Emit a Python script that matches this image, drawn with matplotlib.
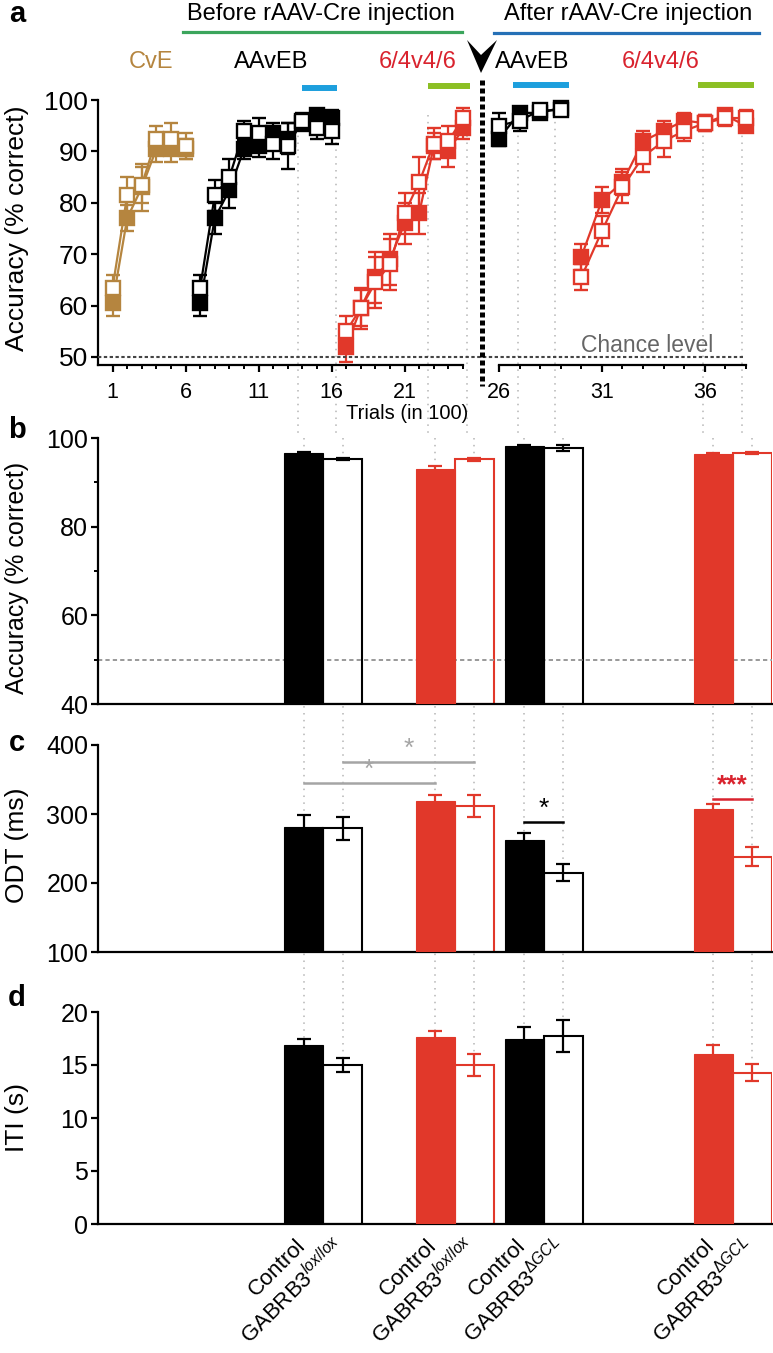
import matplotlib
matplotlib.use("Agg")
import matplotlib.pyplot as plt
from matplotlib.lines import Line2D
from matplotlib.patches import Polygon
from matplotlib.transforms import blended_transform_factory, offset_copy
from matplotlib.ticker import MultipleLocator

plt.rcParams['font.family'] = ['Liberation Sans', 'DejaVu Sans']
plt.rcParams['mathtext.fontset'] = 'custom'
plt.rcParams['mathtext.rm'] = 'Liberation Sans'
plt.rcParams['mathtext.it'] = 'Liberation Sans:italic'
plt.rcParams['axes.linewidth'] = 1.6

RED = '#e1382a'
TXT_RED = '#d9232e'
BROWN = '#b5853f'
BLACK = '#000000'
CYAN = '#1d9fdd'
LIME = '#8cbf24'
GREEN = '#3ba55c'
BLUE = '#2570b6'
GUIDE = '#b5b5b5'
SIG_GRAY = '#a5a5a5'

# ---- panel a: learning curves (accuracy, % correct), filled = control, open = GABRB3 ----
cve_trials = [1, 2, 3, 4, 5, 6]
cve_ctrl = [60.5, 77, 83, 90.5, 90.5, 90.5]
cve_ctrl_err = [2.5, 2.5, 4.5, 2.5, 2.5, 2.0]
cve_ko = [63.5, 81.5, 83.5, 92.5, 92.5, 91]
cve_ko_err = [2.5, 3.5, 3.5, 2.5, 3.0, 2.5]

eb1_trials = [7, 8, 9, 10, 11, 12, 13, 14, 15, 16]
eb1_ctrl = [60.5, 77, 82.5, 90.5, 91, 93.5, 92.5, 95.5, 97, 96.5]
eb1_ctrl_err = [2.5, 3, 3.5, 2, 2, 2, 3, 1.5, 1, 1.5]
eb1_ko = [63.5, 81.5, 85, 94, 93.5, 91.5, 91, 96, 94.5, 94]
eb1_ko_err = [2.5, 3, 3.5, 2, 3, 3, 4.5, 1.5, 2, 2.5]

sw1_trials = [17, 18, 19, 20, 21, 22, 23, 24, 25]
sw1_ctrl = [52, 59.5, 65.5, 69, 76, 78, 91, 90, 94.5]
sw1_ctrl_err = [3, 4, 5, 5, 4, 4, 2.5, 3, 2]
sw1_ko = [55, 59.5, 64.5, 68, 78, 84, 91.5, 92, 96.5]
sw1_ko_err = [3, 3.5, 5, 5, 4, 5, 3, 3, 2]

eb2_trials = [26, 27, 28, 29]
eb2_ctrl = [92.5, 97.5, 97.5, 98.5]
eb2_ctrl_err = [1.5, 1, 1, 0.7]
eb2_ko = [95, 96, 98, 98]
eb2_ko_err = [2.5, 2, 1, 1]

sw2_trials = [30, 31, 32, 33, 34, 35, 36, 37, 38]
sw2_ctrl = [69.5, 80.5, 84, 92, 94, 96, 95.5, 97, 95]
sw2_ctrl_err = [2.5, 2.5, 2.5, 2, 2, 1.5, 1.5, 1, 1]
sw2_ko = [65.5, 74.5, 83, 89, 92, 94, 95.5, 96.5, 96.5]
sw2_ko_err = [2.5, 3, 3, 3, 3, 2, 1.5, 1.5, 1.5]

# analysis windows (trials) and guide positions
blue_windows = [(14.0, 16.4), (26.7, 29.4)]
lime_windows = [(22.6, 25.5), (35.65, 38.4)]
guides_left = [13.7, 16.3, 22.6, 25.3]
guides_right = [26.9, 28.7, 35.9, 37.8]

# ---- panels b-d: summary bars ----
bar_labels = ['Control', r'GABRB3$^{\mathit{lox/lox}}$',
              'Control', r'GABRB3$^{\mathit{lox/lox}}$',
              'Control', r'GABRB3$^{\mathit{\Delta GCL}}$',
              'Control', r'GABRB3$^{\mathit{\Delta GCL}}$']
acc_mean = [96.6, 95.3, 93.1, 95.2, 98.3, 97.8, 96.5, 96.7]
acc_err = [0.3, 0.3, 0.5, 0.3, 0.2, 0.7, 0.2, 0.2]
odt_mean = [281, 279, 319, 312, 262, 215, 307, 238]
odt_err = [17, 16, 9, 16, 11, 12, 8, 14]
iti_mean = [16.9, 15.0, 17.6, 15.0, 17.5, 17.7, 16.0, 14.25]
iti_err = [0.6, 0.7, 0.6, 1.0, 1.1, 1.5, 0.9, 0.8]

bar_colors = [BLACK, BLACK, RED, RED, BLACK, BLACK, RED, RED]
bar_filled = [True, False, True, False, True, False, True, False]
bar_x = [205.5, 244.5, 337, 376, 426, 465, 615, 654]
BAR_W = 39

# significance: (bar i, bar j, y in ms, colour, text)
odt_sig = [(1, 3, 375, SIG_GRAY, '*'), (0, 2, 345, SIG_GRAY, '*'),
           (4, 5, 288, BLACK, '*'), (6, 7, 322, TXT_RED, '***')]

W, H = 773, 1353
fig = plt.figure(figsize=(W / 100, H / 100), dpi=100)


def px_rect(x0, y0, x1, y1):
    return [x0 / W, 1 - y1 / H, (x1 - x0) / W, (y1 - y0) / H]


def fx(x):
    return x / W


def fy(y):
    return 1 - y / H


def style_axis(ax):
    ax.patch.set_visible(False)
    for s in ['top', 'right']:
        ax.spines[s].set_visible(False)
    ax.tick_params(direction='out', length=5, width=1.6, labelsize=18, pad=2)


# ---------------- panel a ----------------
ax_al = fig.add_axes(px_rect(98, 94.9, 463, 365.2))
ax_ar = fig.add_axes(px_rect(498, 94.9, 748, 365.2))
for ax in (ax_al, ax_ar):
    style_axis(ax)
    ax.set_ylim(48.4, 101)
ax_al.set_xlim(0, 25)
ax_ar.set_xlim(25.95, 38.1)
ax_al.spines['left'].set_bounds(48.4, 100)
ax_ar.spines['left'].set_visible(False)
ax_ar.spines['bottom'].set_bounds(26, 38)
ax_ar.tick_params(axis='y', left=False, labelleft=False)
ax_al.set_yticks([50, 60, 70, 80, 90, 100])
ax_al.tick_params(axis='y', labelsize=19)
ax_al.set_xticks([1, 6, 11, 16, 21])
ax_al.set_xticks(range(1, 26), minor=True)
ax_ar.set_xticks([26, 31, 36])
ax_ar.set_xticks(range(26, 39), minor=True)
for ax in (ax_al, ax_ar):
    ax.tick_params(axis='x', which='major', length=5, width=1.6, labelsize=15.5, pad=7)
    ax.tick_params(axis='x', which='minor', length=3, width=1.4)


def draw_series(ax, trials, mean, err, color, filled, z):
    ax.errorbar(trials, mean, yerr=err, color=color, lw=1.6, elinewidth=1.6,
                capsize=5, capthick=1.6, marker='s', ms=10.5, mew=1.7,
                mfc=color if filled else 'white', mec=color, zorder=z, clip_on=False)


for ax, trials, ctrl, cerr, ko, kerr, col in [
        (ax_al, cve_trials, cve_ctrl, cve_ctrl_err, cve_ko, cve_ko_err, BROWN),
        (ax_al, eb1_trials, eb1_ctrl, eb1_ctrl_err, eb1_ko, eb1_ko_err, BLACK),
        (ax_al, sw1_trials, sw1_ctrl, sw1_ctrl_err, sw1_ko, sw1_ko_err, RED),
        (ax_ar, eb2_trials, eb2_ctrl, eb2_ctrl_err, eb2_ko, eb2_ko_err, BLACK),
        (ax_ar, sw2_trials, sw2_ctrl, sw2_ctrl_err, sw2_ko, sw2_ko_err, RED)]:
    draw_series(ax, trials, ctrl, cerr, col, True, 3)
    draw_series(ax, trials, ko, kerr, col, False, 4)

# chance level line across both halves
chance_tr = blended_transform_factory(fig.transFigure, ax_al.transData)
fig.add_artist(Line2D([fx(98), fx(745)], [50, 50], transform=chance_tr, color='#444444',
                      lw=1.5, linestyle=(0, (1.6, 1.2)), zorder=1))
fig.text(fx(647), fy(345), 'Chance level', color='#666666', fontsize=16.5, ha='center', va='center')

# analysis window bars
for ax, (a, b), y in zip([ax_al, ax_ar], blue_windows, [88, 85]):
    tr = blended_transform_factory(ax.transData, fig.transFigure)
    fig.add_artist(Line2D([a, b], [fy(y)] * 2, transform=tr, color=CYAN, lw=4.3, solid_capstyle='butt'))
for ax, (a, b), y in zip([ax_al, ax_ar], lime_windows, [86, 85]):
    tr = blended_transform_factory(ax.transData, fig.transFigure)
    fig.add_artist(Line2D([a, b], [fy(y)] * 2, transform=tr, color=LIME, lw=4.3, solid_capstyle='butt'))

# headers
fig.text(fx(321), fy(14), 'Before rAAV-Cre injection', fontsize=17, ha='center', va='center')
fig.text(fx(628), fy(14), 'After rAAV-Cre injection', fontsize=17, ha='center', va='center')
fig.add_artist(Line2D([fx(183), fx(462)], [fy(32)] * 2, color=GREEN, lw=2.3))
fig.add_artist(Line2D([fx(494), fx(759)], [fy(33)] * 2, color=BLUE, lw=2.3))
for x, txt, col in [(151, 'CvE', BROWN), (271, 'AAvEB', BLACK), (418, '6/4v4/6', TXT_RED),
                    (532, 'AAvEB', BLACK), (661, '6/4v4/6', TXT_RED)]:
    fig.text(fx(x), fy(62), txt, color=col, fontsize=17, ha='center', va='center')

# injection marker: chevron + thick dashed break
fig.add_artist(Polygon([(fx(467), fy(40)), (fx(481), fy(55)), (fx(497), fy(40)), (fx(481), fy(73))],
                       closed=True, transform=fig.transFigure, fc='black', ec='none'))
fig.add_artist(Line2D([fx(482), fx(482)], [fy(80), fy(386)], color='black', lw=3.6,
                      linestyle=(0, (1.0, 0.6))))

fig.text(fx(407), fy(414), 'Trials (in 100)', fontsize=14.5, ha='center', va='center')

# ---------------- panels b-d ----------------
ax_b = fig.add_axes(px_rect(98, 438, 772, 704))
ax_c = fig.add_axes(px_rect(98, 745, 772, 952))
ax_d = fig.add_axes(px_rect(98, 1012, 772, 1224))


def draw_bars(ax, means, errs, base):
    for x, m, e, col, filled in zip(bar_x, means, errs, bar_colors, bar_filled):
        if filled:
            ax.bar(x, m - base, bottom=base, width=BAR_W, color=col, edgecolor=col, lw=0.8, zorder=3)
        else:
            ax.bar(x, m - base, bottom=base, width=BAR_W, color='white', edgecolor=col, lw=1.5, zorder=2)
        ax.errorbar(x, m, yerr=e, fmt='none', ecolor=col, elinewidth=1.6, capsize=5,
                    capthick=1.6, zorder=3.5)


for ax, means, errs, lim in [(ax_b, acc_mean, acc_err, (40, 100)),
                             (ax_c, odt_mean, odt_err, (100, 400)),
                             (ax_d, iti_mean, iti_err, (0, 20))]:
    style_axis(ax)
    ax.set_xlim(0, 674)
    ax.set_ylim(*lim)
    ax.tick_params(axis='x', bottom=False, labelbottom=False)
    draw_bars(ax, means, errs, lim[0])

ax_b.set_yticks([40, 60, 80, 100])
ax_b.yaxis.set_minor_locator(MultipleLocator(10))
ax_b.tick_params(axis='y', which='minor', length=3, width=1.4)
ax_b.axhline(50, color='#999999', lw=1.4, linestyle=(0, (2.2, 1.6)), zorder=2.5)
ax_c.set_yticks([100, 200, 300, 400])
ax_d.set_yticks([0, 5, 10, 15, 20])

for i, j, y, col, txt in odt_sig:
    ax_c.plot([bar_x[i], bar_x[j]], [y, y], color=col, lw=1.8, clip_on=False, zorder=4)
    ax_c.text((bar_x[i] + bar_x[j]) / 2, y + 2, txt, color=col, fontsize=19,
              ha='center', va='bottom', fontweight='bold' if txt == '***' else 'normal')

lab_tr = offset_copy(blended_transform_factory(ax_d.transData, ax_d.transAxes),
                     fig=fig, x=-1, y=-19, units='dots')
for x, lab in zip(bar_x, bar_labels):
    ax_d.text(x, 0, lab, transform=lab_tr, rotation=45, rotation_mode='anchor',
              ha='right', va='center', fontsize=16)

# dotted guides linking trial windows to bars
top_a = ax_al.transData.transform((0, 97))[1] / fig.bbox.height
top_b = 1 - 438 / H
bot_d = 1 - 1224 / H
for ax, xs in [(ax_al, guides_left), (ax_ar, guides_right)]:
    tr = blended_transform_factory(ax.transData, fig.transFigure)
    for x in xs:
        fig.add_artist(Line2D([x, x], [top_a, top_b], transform=tr, color=GUIDE, lw=1.1,
                              linestyle=(0, (1, 3.5)), zorder=-1))
tr = blended_transform_factory(ax_b.transData, fig.transFigure)
for x in bar_x:
    fig.add_artist(Line2D([x, x], [top_b, bot_d], transform=tr, color=GUIDE, lw=1.1,
                          linestyle=(0, (1, 3.5)), zorder=-1))

# axis titles and panel letters
for y, txt, fs in [(228, 'Accuracy (% correct)', 19), (578, 'Accuracy (% correct)', 18),
                   (845, 'ODT (ms)', 19), (1117, 'ITI (s)', 19)]:
    fig.text(fx(17), fy(y), txt, rotation=90, fontsize=fs, ha='center', va='center')
for y, txt in [(14, 'a'), (430, 'b'), (743, 'c'), (998, 'd')]:
    fig.text(fx(17), fy(y), txt, fontsize=21, fontweight='bold', ha='center', va='center')

fig.savefig('out.png', dpi=100)
